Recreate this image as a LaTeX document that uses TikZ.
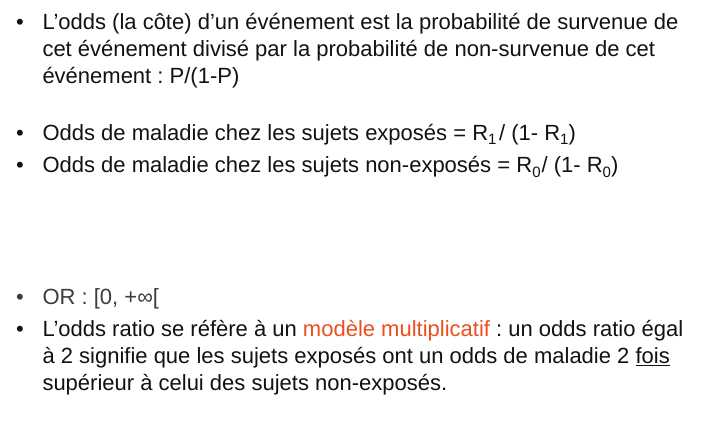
\documentclass[tikz,border=0pt]{standalone}
\usepackage{fontspec}
\setmainfont{Liberation Sans}
\frenchspacing
\definecolor{txt}{RGB}{18,18,18}
\definecolor{graytxt}{RGB}{60,60,60}
\definecolor{accent}{RGB}{236,78,32}
\newcommand{\sbs}[1]{\raisebox{-4.2pt}{\fontsize{15}{15}\selectfont #1}}
\begin{document}
\begin{tikzpicture}[x=1pt,y=1pt,
  txtline/.style={anchor=base west, inner sep=0pt, outer sep=0pt, text=txt, font=\fontsize{22}{26}\selectfont},
  bul/.style={anchor=base, inner sep=0pt, outer sep=0pt, text=txt, font=\fontsize{22}{26}\selectfont}]
\useasboundingbox[fill=white] (0,0) rectangle (702,-427);
% bullet 1
\node[bul] (b1) at (20,-29.3) {•};
\node[txtline] (l1) at (42.5,-29.3) {L’odds (la côte) d’un événement est la probabilité de survenue de};
\node[txtline] (l2) at (42.5,-56.3) {cet événement divisé par la probabilité de non-survenue de cet};
\node[txtline] (l3) at (42.5,-83.3) {événement : P/(1-P)};
% bullets 2,3
\node[bul] (b2) at (20,-140.7) {•};
\node[txtline] (l4) at (42.5,-140.7) {Odds de maladie chez les sujets exposés = R\sbs{1}\hspace{2.5pt}/ (1- R\sbs{1})};
\node[bul] (b3) at (20,-173) {•};
\node[txtline] (l5) at (42.5,-173) {Odds de maladie chez les sujets non-exposés = R\sbs{0}\hspace{1pt}/ (1- R\sbs{0})};
% bullet 4
\node[bul, text=graytxt] (b4) at (20,-305) {•};
\node[txtline, text=graytxt] (l6) at (42.5,-305) {OR : [0, +∞[};
% bullet 5
\node[bul] (b5) at (20,-336.7) {•};
\node[txtline] (l7) at (42.5,-336.7) {L’odds ratio se réfère à un \textcolor{accent}{modèle multiplicatif} : un odds ratio égal};
\node[txtline] (l8) at (42.5,-363.7) {à 2 signifie que les sujets exposés ont un odds de maladie 2 \underline{fois}};
\node[txtline] (l9) at (42.5,-390.7) {supérieur à celui des sujets non-exposés.};
\end{tikzpicture}
\end{document}
